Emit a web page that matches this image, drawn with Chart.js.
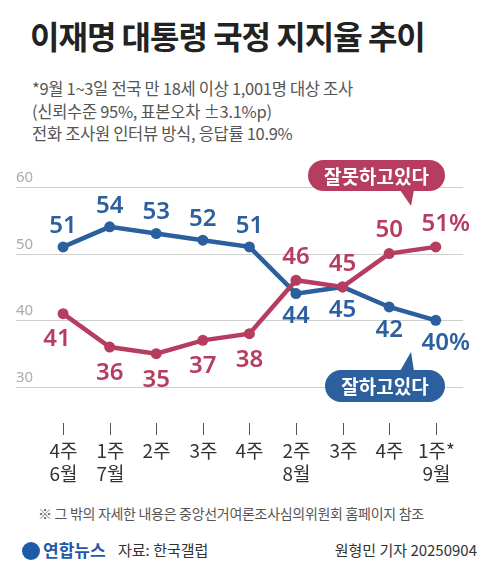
<!DOCTYPE html><html><head><meta charset="utf-8">
<script src="https://cdn.jsdelivr.net/npm/chart.js@4"></script>
<style>
body{margin:0;width:499px;height:587px;background:#fff;font-family:"Noto Sans CJK KR","Noto Sans",sans-serif;position:relative;overflow:hidden}
.t{position:absolute;white-space:nowrap}
</style></head><body>
<div class="t" style="left:30px;top:12px;font-size:32px;font-weight:700;color:#222;letter-spacing:-1px">이재명 대통령 국정 지지율 추이</div>
<div class="t" style="left:32px;top:77px;font-size:16.5px;line-height:22.5px;color:#555;letter-spacing:-0.3px">*9월 1~3일 전국 만 18세 이상 1,001명 대상 조사<br>(신뢰수준 95%, 표본오차 ±3.1%p)<br>전화 조사원 인터뷰 방식, 응답률 10.9%</div>
<div class="t" style="left:38px;top:503px;font-size:14px;color:#555;letter-spacing:-0.3px">※ 그 밖의 자세한 내용은 중앙선거여론조사심의위원회 홈페이지 참조</div>
<div class="t" style="left:22px;top:537px;font-size:17px;font-weight:700;color:#1e5aa8"><span style="display:inline-block;width:18px;height:18px;border-radius:50%;background:#1e5aa8;vertical-align:-3px;margin-right:3px"></span>연합뉴스</div>
<div class="t" style="left:118px;top:539px;font-size:15px;color:#333">자료: 한국갤럽</div>
<div class="t" style="right:22px;top:539px;font-size:15px;color:#333">원형민 기자 20250904</div>
<div style="position:absolute;left:0;top:160px;width:499px;height:340px"><canvas id="c"></canvas></div>
<script>
const weeks=["4주","1주","2주","3주","4주","2주","3주","4주","1주*"];
const months=["6월","7월","","","","8월","","","9월"];
const approve=[51,54,53,52,51,44,45,42,40];
const disapprove=[41,36,35,37,38,46,45,50,51];
const yTicks=[30,40,50,60];
const BLUE="#2c5f9e",RED="#b63d60";
const blueOff=[-21,-21,-21,-21,-21,23,23,23,23];
const redOff=[26,26,26,26,26,-23,-23,-23,-23];
const redDx=[-6,0,0,0,0,0,0,0,0];
const deco={id:'deco',
beforeDatasetsDraw(ch){const c=ch.ctx,x=ch.scales.x,y=ch.scales.y;c.save();
c.strokeStyle="#cfcfcf";c.lineWidth=1;c.fillStyle="#aaa";c.font="15px 'Noto Sans'";c.textBaseline="bottom";
yTicks.forEach(v=>{const p=Math.round(y.getPixelForValue(v))+0.5;c.beginPath();c.moveTo(16,p);c.lineTo(463,p);c.stroke();c.fillText(v,16,p-2);});
c.strokeStyle="#555";c.fillStyle="#333";c.font="19px 'Noto Sans CJK KR'";c.textAlign="center";c.textBaseline="middle";
weeks.forEach((w,i)=>{const px=Math.round(x.getPixelForValue(i))+0.5;c.beginPath();c.moveTo(px,263);c.lineTo(px,275);c.stroke();c.fillText(w,px,291);if(months[i])c.fillText(months[i],px,314);});
c.restore();},
afterDatasetsDraw(ch){const c=ch.ctx,x=ch.scales.x,y=ch.scales.y;c.save();c.textAlign="center";c.textBaseline="middle";c.font="600 24px 'Noto Sans'";
approve.forEach((v,i)=>{c.fillStyle=BLUE;c.fillText(v+(i==8?"%":""),x.getPixelForValue(i)+(i==8?10:0),y.getPixelForValue(v)+blueOff[i]);});
disapprove.forEach((v,i)=>{c.fillStyle=RED;c.fillText(v+(i==8?"%":""),x.getPixelForValue(i)+(i==8?10:redDx[i]),y.getPixelForValue(v)+redOff[i]);});
function bub(x0,y0,w,h,col,txt,tx,ty,up){c.fillStyle=col;c.beginPath();c.roundRect(x0,y0,w,h,h/2);c.fill();c.beginPath();
if(up){c.moveTo(tx-10,y0+1);c.lineTo(tx+1,ty);c.lineTo(tx+4,y0+1);}else{c.moveTo(tx-10,y0+h-1);c.lineTo(tx+1,ty);c.lineTo(tx+4,y0+h-1);}c.fill();
c.fillStyle="#fff";c.font="700 19px 'Noto Sans CJK KR'";c.fillText(txt,x0+w/2,y0+h/2+1);}
bub(308,0,137,31,RED,"잘못하고있다",410,46,false);
bub(325,210,120,32,BLUE,"잘하고있다",410,192,true);
c.restore();}};
new Chart(document.getElementById('c'),{type:'line',
data:{datasets:[
{data:disapprove.map((v,i)=>({x:i,y:v})),borderColor:RED,backgroundColor:RED,borderWidth:4.5,pointRadius:5.5,pointBorderWidth:0},
{data:approve.map((v,i)=>({x:i,y:v})),borderColor:BLUE,backgroundColor:BLUE,borderWidth:4.5,pointRadius:5.5,pointBorderWidth:0}]},
options:{responsive:true,maintainAspectRatio:false,animation:false,layout:{padding:0},
plugins:{legend:{display:false},tooltip:{enabled:false}},
scales:{x:{type:'linear',display:false,min:-1.236,max:9.24},y:{display:false,min:13.91,max:63.19}}},
plugins:[deco]});
</script></body></html>
